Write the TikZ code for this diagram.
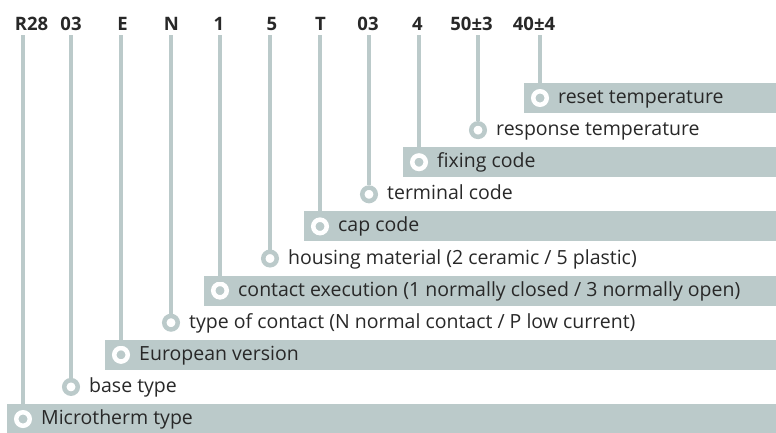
\documentclass[tikz,border=0pt]{standalone}
\usepackage{fontspec}
\setmainfont{Open Sans}
\definecolor{band}{RGB}{187,202,202}
\definecolor{txt}{RGB}{40,40,40}
\tikzset{
  bandbox/.style={fill=band, draw=none},
  ringband/.style={circle, draw=white, fill=band, line width=4.5pt, minimum size=13.5pt, inner sep=0pt},
  ringfree/.style={circle, draw=band, fill=white, line width=4.5pt, minimum size=13.5pt, inner sep=0pt},
  leader/.style={draw=band, line width=3.5pt},
  desc/.style={anchor=base west, inner sep=0pt, text=txt, font=\fontsize{19.5}{22}\selectfont},
  head/.style={anchor=base, inner sep=0pt, text=txt, font=\fontsize{18.5}{20}\selectfont\bfseries},
}
\begin{document}
\begin{tikzpicture}[x=1pt,y=-1pt]
\useasboundingbox (0,0) rectangle (776,432);
% header codes
\foreach \n/\hx/\t in {h0/534/{40±4}, h1/471.5/{50±3}, h2/417.5/4, h3/368/03, h4/320.5/T, h5/272/5, h6/219/1, h7/171.5/N, h8/122.5/E, h9/71/03, h10/31.5/R28}
  \node[head] (\n) at (\hx,30) {\t};
% rows
\foreach \k/\cx/\b/\lab in {
  0/540/1/{reset temperature},
  1/478/0/{response temperature},
  2/419/1/{fixing code},
  3/369/0/{terminal code},
  4/320/1/{cap code},
  5/270/0/{housing material (2 ceramic / 5 plastic)},
  6/220/1/{contact execution (1 normally closed / 3 normally open)},
  7/171/0/{type of contact (N normal contact / P low current)},
  8/121/1/{European version},
  9/71/0/{base type},
  10/23/1/{Microtherm type}}{
  \pgfmathsetmacro{\cy}{98+32.1*\k}
  \ifnum\b=1
    \fill[bandbox] (\cx-16,\cy-15) rectangle (776,\cy+15);
  \fi
  \coordinate (t\k) at (\cx,35);
  \ifnum\b=1
    \node[ringband] (c\k) at (\cx,\cy) {};
  \else
    \node[ringfree] (c\k) at (\cx,\cy) {};
  \fi
  \draw[leader] (t\k) -- (c\k.north);
  \node[desc] (l\k) at (\cx+18,\cy+5.5) {\lab};
}
\end{tikzpicture}
\end{document}
